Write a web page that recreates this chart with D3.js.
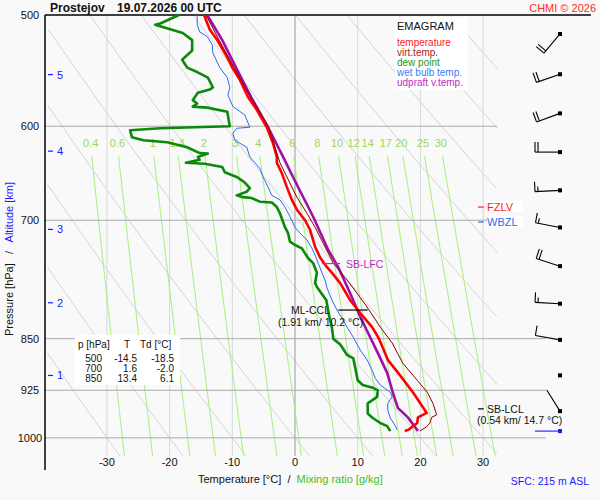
<!DOCTYPE html>
<html>
<head>
<meta charset="utf-8">
<script src="https://cdn.jsdelivr.net/npm/d3@7"></script>
<style>
body { margin: 0; background: #f9f9f9; }
svg { font-family: "Liberation Sans", Arial, sans-serif; }
</style>
</head>
<body>
<div id="chart"></div>
<script>
'use strict';

var station = 'Prostejov';
var runTime = '19.07.2026 00 UTC';

var isotherms = [-30, -20, -10, 0, 10, 20, 30];
var isobars = [600, 700, 850, 925, 1000];
var pressureLabels = [500, 600, 700, 850, 925, 1000];
var mixingRatios = [0.4, 0.6, 1, 1.4, 2, 3, 4, 6, 8, 10, 12, 14, 17, 20, 25, 30];
var dryAdiabats = [-30, -20, -10, 0, 10, 20, 30, 40, 50, 60, 70, 80, 90];

// altitude [km] -> pressure [hPa]
var altKm = [1, 2, 3, 4, 5];
var altP = [902.8, 801.4, 710.6, 625, 551.3];

// [p, T]
var temperature = [[500,-14.5],[512,-13.6],[521,-12.4],[536,-10.8],[545,-10.0],[556,-8.8],[572,-7.5],[584,-6.1],
  [601,-4.5],[617,-3.5],[631,-2.9],[637,-2.9],[648,-2.1],[663,-1.3],[677,-0.5],[688,0.3],[700,1.6],[711,2.4],
  [731,3.2],[744,4.0],[756,5.1],[763,5.9],[776,7.2],[798,8.8],[815,10.4],[834,12.3],[850,13.4],[880,14.8],
  [902,16.7],[928,18.8],[951,20.4],[960,21.0],[963,20.4],[967,19.6],[976,19.5],[981,18.8],[987,18.1],[989,17.5]];

var virtTemp = [[500,-14.2],[521,-12.1],[545,-9.7],[572,-7.1],[601,-4.2],[637,-2.4],[674,0.3],[692,1.9],[708,3.2],
  [727,4.5],[751,6.1],[772,8.3],[789,9.9],[807,11.5],[834,13.6],[856,15.5],[885,17.2],[910,19.5],[928,21.1],
  [945,22.0],[963,22.6],[967,21.8],[976,21.5],[982,21.0],[989,19.9]];

var dewPoint = [[500,-18.5],[507,-21.5],[508,-22.3],[510,-21.1],[515,-17.9],[521,-16.4],[530,-16.4],[538,-18.0],
  [545,-17.2],[549,-15.6],[554,-13.9],[563,-13.1],[565,-13.6],[568,-15.5],[575,-16.3],[578,-15.6],[581,-16.3],
  [582,-14.0],[586,-10.8],[600,-10.4],[602,-21.5],[604,-26.3],[611,-26.0],[614,-24.2],[616,-20.4],[621,-17.2],
  [627,-15.2],[627.5,-13.9],[631,-15.5],[634,-15.2],[637,-17.4],[638,-14.4],[641.5,-11.6],[647,-11.2],[652,-9.3],
  [658,-8.0],[664,-7.2],[668,-7.7],[672,-9.3],[674,-8.3],[675,-6.9],[679,-5.6],[680,-3.7],[685,-2.9],[692,-2.4],
  [700,-2.0],[708,-1.6],[715,-1.1],[725,-0.8],[729,0.0],[733,1.1],[739,1.6],[745,2.1],[751,2.9],[763,3.5],
  [776,3.2],[781,3.5],[798,5.0],[817,5.4],[835,5.9],[850,6.1],[858,7.2],[873,8.3],[878,9.3],[891,9.6],[910,10.0],
  [917,10.8],[921,12.4],[925,13.2],[935,13.1],[945,11.6],[961,11.6],[968,12.4],[976,13.6],[981,14.7],[989,15.2]];

var wetBulb = [[500,-15.6],[508,-15.6],[514,-15.2],[518,-14.0],[525,-13.2],[532,-13.1],[545,-12.0],[554,-10.8],
  [563,-10.4],[570,-10.7],[581,-9.9],[589,-8.0],[601,-7.2],[602,-9.3],[607,-9.9],[614,-9.6],[621,-7.7],[631,-7.2],
  [637,-6.4],[643,-5.6],[652,-5.1],[663,-4.3],[672,-3.7],[677,-2.4],[685,-1.6],[696,-0.8],[708,0.0],[715,0.8],
  [723,1.9],[733,2.7],[741,3.2],[751,3.7],[763,4.3],[772,4.8],[782,5.1],[798,5.9],[811,6.7],[822,7.5],[834,8.3],
  [848,9.3],[866,10.4],[880,11.5],[895,12.3],[907,12.8],[917,13.6],[928,15.2],[935,15.5],[945,14.8],[956,14.8],
  [968,15.2],[979,15.9],[987,16.3]];

var parcel = [[500,-14.0],[521,-11.6],[545,-9.4],[572,-7.0],[601,-4.3],[631,-1.9],[655,-0.1],[696,2.9],[735,5.3],
  [756,6.9],[789,8.8],[820,10.4],[841,11.6],[870,13.2],[899,14.7],[925,15.5],[952,16.4],[967,18.0],[989,19.6]];

// wind: pressure, direction [deg], speed [kt]
var windP = [515.8, 551, 587.5, 626, 666.5, 708.3, 754.7, 802.6, 851.6, 902.7, 957.2];
var windDir = [220, 251, 250, 270, 267, 281, 288, 273, 280, 0, 328];
var windSpd = [20, 20, 20, 20, 15, 15, 20, 15, 10, 0, 2];
var sfcWind = {p: 989, dir: 270, spd: 2};

var tableP = [500, 700, 850];
var tableT = [-14.5, 1.6, 13.4];
var tableTd = [-18.5, -2.0, 6.1];

var legendNames = ['temperature', 'virt.temp.', 'dew point', 'wet bulb temp.', 'udpraft v.temp.'];
var legendColors = ['#ff1a1a', '#a52222', '#22962a', '#3d7bff', '#b82fc0'];

// ---- chart ----
var W = 600, H = 500;
var svg = d3.select('#chart').append('svg').attr('width', W).attr('height', H);

var x = d3.scaleLinear().domain([-40, 40]).range([44.2, 545.8]);
var y = d3.scaleLog().domain([500, 1050]).range([15, 467.6]);

var line = d3.line()
    .x(function (d) { return x(d[1]); })
    .y(function (d) { return y(d[0]); });

function satTemp(w, p) {
    var e = w * p / (622 + w);
    var l = Math.log(e / 6.112);
    return 243.5 * l / (17.67 - l);
}
function dryT(th, p) {
    return (th + 273.15) * Math.pow(p / 1000, 0.286) - 273.15;
}

var bg = svg.append('g');

// dry adiabats
dryAdiabats.forEach(function (th) {
    var pts = [];
    for (var p = 500; p <= 1030; p += 2) {
        var t = dryT(th, p);
        if (t >= -39.5 && t <= 32.3) pts.push([p, t]);
    }
    bg.append('path').attr('d', line(pts))
        .attr('fill', 'none').attr('stroke', '#d2d2d2').attr('stroke-width', 1);
});

// isotherms
isotherms.forEach(function (t) {
    bg.append('line')
        .attr('x1', x(t)).attr('x2', x(t))
        .attr('y1', y(500)).attr('y2', y(1030))
        .attr('stroke', t === 0 ? '#9a9a9a' : '#d8d8d8').attr('stroke-width', 1);
});

// mixing ratio lines
mixingRatios.forEach(function (w) {
    var pts = [];
    for (var p = 630; p <= 1030; p += 5) pts.push([p, satTemp(w, p)]);
    bg.append('path').attr('d', line(pts))
        .attr('fill', 'none').attr('stroke', '#a6f07a').attr('stroke-width', 1);
    bg.append('text')
        .attr('x', x(satTemp(w, 620))).attr('y', y(620) + 1)
        .attr('text-anchor', 'middle').attr('font-size', '11px').attr('fill', '#9ed65a')
        .text(w);
});

// isobars
isobars.forEach(function (p) {
    bg.append('line')
        .attr('x1', x(-40)).attr('x2', p < 800 ? x(32.2) : x(40))
        .attr('y1', y(p)).attr('y2', y(p))
        .attr('stroke', '#aaaaaa').attr('stroke-width', 1);
});

// frame
svg.append('line').attr('x1', 45).attr('x2', 45).attr('y1', y(500)).attr('y2', 470)
    .attr('stroke', '#000').attr('stroke-width', 1.5);
svg.append('line').attr('x1', 45).attr('x2', 591).attr('y1', y(500)).attr('y2', y(500))
    .attr('stroke', '#000').attr('stroke-width', 1.5);

// pressure labels
svg.selectAll('.plab').data(pressureLabels).enter().append('text')
    .attr('x', 30).attr('y', function (d) { return y(d) + 4; })
    .attr('text-anchor', 'middle').attr('font-size', '11px').attr('fill', '#111')
    .text(function (d) { return d; });

// altitude ticks
altKm.forEach(function (k, i) {
    svg.append('line').attr('x1', 48).attr('x2', 53)
        .attr('y1', y(altP[i])).attr('y2', y(altP[i]))
        .attr('stroke', '#1a1aff').attr('stroke-width', 1.2);
    svg.append('text').attr('x', 57).attr('y', y(altP[i]) + 4)
        .attr('font-size', '11px').attr('fill', '#1a1aff').text(k);
});

// temperature labels
svg.selectAll('.tlab').data(isotherms).enter().append('text')
    .attr('x', function (d) { return x(d); }).attr('y', 466)
    .attr('text-anchor', 'middle').attr('font-size', '11px').attr('fill', '#111')
    .text(function (d) { return d; });

// axis titles
var xt = svg.append('text').attr('x', 198).attr('y', 483).attr('font-size', '11px')
    .style('white-space', 'pre');
xt.append('tspan').attr('fill', '#111').text('Temperature [°C]  /  ');
xt.append('tspan').attr('fill', '#3cc21e').text('Mixing ratio [g/kg]');

var yt = svg.append('text').attr('transform', 'translate(13,336) rotate(-90)')
    .attr('font-size', '11px').style('white-space', 'pre');
yt.append('tspan').attr('fill', '#111').text('Pressure [hPa]   /   ');
yt.append('tspan').attr('fill', '#1a1aff').text('Altitude [km]');

// profiles
function profile(data, color, width) {
    svg.append('path').attr('d', line(data))
        .attr('fill', 'none').attr('stroke', color).attr('stroke-width', width)
        .attr('stroke-linejoin', 'round');
}
profile(wetBulb, '#2a6cf0', 1);
profile(dewPoint, '#0a8a0a', 2.6);
profile(parcel, '#a010a8', 2.6);
profile(temperature, '#ff0000', 2.6);
profile(virtTemp, '#8c0000', 1);

// wind barbs
function barb(px, py, dir, spd, color) {
    var g = svg.append('g').attr('stroke', color).attr('stroke-width', 1.1);
    var r = dir * Math.PI / 180;
    var sx = Math.sin(r), sy = -Math.cos(r);
    var L = 25;
    if (spd > 0) {
        g.append('line').attr('x1', px).attr('y1', py)
            .attr('x2', px + sx * L).attr('y2', py + sy * L);
        var bx = -sy, by = sx;
        var n10 = Math.floor(spd / 10), n5 = Math.floor((spd % 10) / 5);
        var pos = L;
        for (var i = 0; i < n10 + n5; i++) {
            var len = i < n10 ? 10 : 5;
            var ax = px + sx * pos, ay = py + sy * pos;
            g.append('line').attr('x1', ax).attr('y1', ay)
                .attr('x2', ax + bx * len).attr('y2', ay + by * len);
            pos -= 3;
        }
    }
    svg.append('rect').attr('x', px - 2).attr('y', py - 2).attr('width', 4).attr('height', 4)
        .attr('fill', color);
}
windP.forEach(function (p, i) { barb(560, y(p), windDir[i], windSpd[i], '#000'); });
barb(560, y(sfcWind.p), sfcWind.dir, sfcWind.spd, '#1a1aff');

// level annotations
function levelTag(p, label, color) {
    svg.append('rect').attr('x', 487).attr('y', y(p) - 6).attr('width', 36).attr('height', 11).attr('fill', '#fff');
    svg.append('line').attr('x1', x(29.2)).attr('x2', x(30.1)).attr('y1', y(p)).attr('y2', y(p))
        .attr('stroke', color).attr('stroke-width', 1.2);
    svg.append('text').attr('x', 487).attr('y', y(p) + 4).attr('font-size', '11px').attr('fill', color).text(label);
}
levelTag(685, 'FZLV', '#ff1a1a');
levelTag(702, 'WBZL', '#2a6cf0');

svg.append('line').attr('x1', x(4.3)).attr('x2', x(7.2)).attr('y1', y(751.5)).attr('y2', y(751.5))
    .attr('stroke', '#b82fc0').attr('stroke-width', 1.2);
svg.append('text').attr('x', 346).attr('y', y(751.5) + 4).attr('font-size', '10.5px').attr('fill', '#b82fc0')
    .text('SB-LFC');

svg.append('line').attr('x1', x(6.9)).attr('x2', x(11.6)).attr('y1', y(811)).attr('y2', y(811))
    .attr('stroke', '#000').attr('stroke-width', 1.2);
svg.append('text').attr('x', 330).attr('y', y(811) + 4).attr('text-anchor', 'end')
    .attr('font-size', '10.5px').attr('fill', '#111').text('ML-CCL');
svg.append('text').attr('x', 278).attr('y', y(811) + 16)
    .attr('font-size', '10.5px').attr('fill', '#111').text('(1.91 km/ 10.2 °C)');

svg.append('line').attr('x1', x(29.2)).attr('x2', x(30.1)).attr('y1', y(953.6)).attr('y2', y(953.6))
    .attr('stroke', '#000').attr('stroke-width', 1.2);
svg.append('text').attr('x', 487).attr('y', y(953.6) + 4)
    .attr('font-size', '10.5px').attr('fill', '#111').text('SB-LCL');
svg.append('text').attr('x', 477).attr('y', y(953.6) + 15)
    .attr('font-size', '10.5px').attr('fill', '#111').text('(0.54 km/ 14.7 °C)');

// legend
var lg = svg.append('g');
lg.append('rect').attr('x', 395).attr('y', 17).attr('width', 73).attr('height', 73).attr('fill', '#fff');
lg.append('text').attr('x', 397).attr('y', 30).attr('font-size', '11px').attr('fill', '#111').text('EMAGRAM');
legendNames.forEach(function (n, i) {
    lg.append('text').attr('x', 397).attr('y', 46 + i * 10).attr('font-size', '10px')
        .attr('fill', legendColors[i]).text(n);
});

// table
var tb = svg.append('g').attr('font-size', '10px').attr('fill', '#111');
tb.append('rect').attr('x', 75).attr('y', 335).attr('width', 105).attr('height', 50).attr('fill', '#fff');
tb.append('text').attr('x', 78).attr('y', 348).text('p [hPa]');
tb.append('text').attr('x', 127).attr('y', 348).attr('text-anchor', 'middle').text('T');
tb.append('text').attr('x', 140).attr('y', 348).text('Td [°C]');
tableP.forEach(function (p, i) {
    var yy = 362 + i * 10;
    tb.append('text').attr('x', 102).attr('y', yy).attr('text-anchor', 'end').text(p);
    tb.append('text').attr('x', 137).attr('y', yy).attr('text-anchor', 'end').text(tableT[i].toFixed(1));
    tb.append('text').attr('x', 174).attr('y', yy).attr('text-anchor', 'end').text(tableTd[i].toFixed(1));
});

// header and footer
svg.append('text').attr('x', 50).attr('y', 12).attr('font-size', '12px').attr('font-weight', 'bold')
    .attr('fill', '#111').text(station);
svg.append('text').attr('x', 117).attr('y', 12).attr('font-size', '12px').attr('font-weight', 'bold')
    .attr('fill', '#111').text(runTime);
svg.append('text').attr('x', 596).attr('y', 12).attr('text-anchor', 'end').attr('font-size', '11px')
    .attr('fill', '#ff2a2a').text('CHMI © 2026');
svg.append('text').attr('x', 589).attr('y', 485).attr('text-anchor', 'end').attr('font-size', '10.5px')
    .attr('fill', '#1a1aff').text('SFC: 215 m ASL');
</script>
</body>
</html>
